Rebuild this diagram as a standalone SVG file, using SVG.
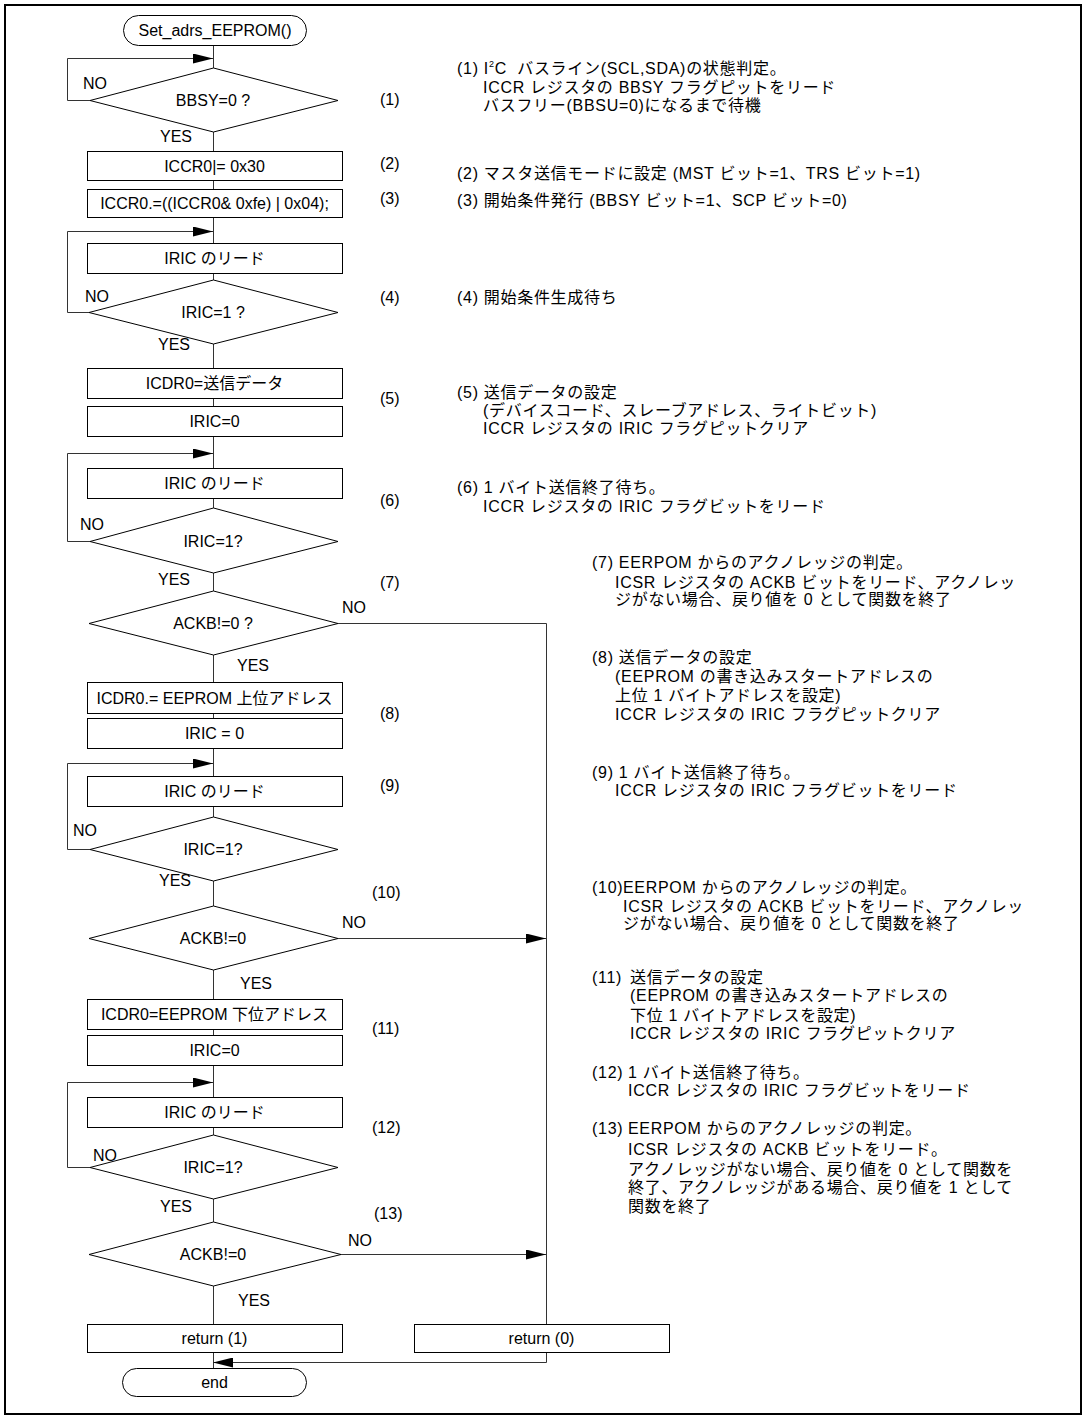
<svg xmlns="http://www.w3.org/2000/svg" width="1088" height="1421" viewBox="0 0 1088 1421">
<style>
.frame{fill:none;stroke:#000;stroke-width:2}
.box{fill:#fff;stroke:#000;stroke-width:1}
.conn{fill:none;stroke:#333;stroke-width:1}
text{font-family:"Liberation Sans","Noto Sans CJK JP",sans-serif;font-size:16px;fill:#000}
.c{text-anchor:middle}
#notes text{letter-spacing:0.7px}
</style>
<defs>
<marker id="ah" markerUnits="userSpaceOnUse" markerWidth="20" markerHeight="10" refX="20" refY="5" orient="auto">
<path d="M0,0 L20,5 L0,10 z" fill="#000"/>
</marker>
</defs>
<rect width="1088" height="1421" fill="#fff"/>
<rect class="frame" x="5" y="5" width="1076" height="1409"/>

<g id="connectors">
<path class="conn" d="M213.5,45 V68 M213.5,132 V151 M213.5,180 V189 M213.5,217 V243 M213.5,273 V280 M213.5,344 V368 M213.5,398 V406 M213.5,436 V468 M213.5,498 V508 M213.5,573 V591 M213.5,655 V682 M213.5,713 V718 M213.5,748 V776 M213.5,806 V817 M213.5,881 V906 M213.5,970 V999 M213.5,1029 V1035 M213.5,1065 V1097 M213.5,1127 V1135 M213.5,1199 V1222 M213.5,1286 V1324 M213.5,1352 V1368"/>
<path class="conn" d="M90,100.5 H67.5 V58.5 H213" marker-end="url(#ah)"/>
<path class="conn" d="M89,312.5 H67.5 V231.5 H213" marker-end="url(#ah)"/>
<path class="conn" d="M90,541.5 H67.5 V453.5 H213" marker-end="url(#ah)"/>
<path class="conn" d="M90,849.5 H67.5 V763.5 H213" marker-end="url(#ah)"/>
<path class="conn" d="M90,1167.5 H67.5 V1082.5 H213" marker-end="url(#ah)"/>
<path class="conn" d="M338,623.5 H546.5 V1324"/>
<path class="conn" d="M338,938.5 H546" marker-end="url(#ah)"/>
<path class="conn" d="M338,1254.5 H546" marker-end="url(#ah)"/>
<path class="conn" d="M546.5,1352 V1362.5 H213" marker-end="url(#ah)"/>
</g>

<g id="start"><rect class="box" x="123.5" y="15.5" width="183" height="30" rx="15"/><text class="c" x="215" y="36">Set_adrs_EEPROM()</text></g>

<g id="d1"><polygon class="box" points="213.5,68 338,100.5 213.5,132 90,100.5"/><text class="c" x="213" y="106">BBSY=0 ?</text><text x="83" y="89">NO</text><text x="160" y="142">YES</text></g>
<g id="b2"><rect class="box" x="87.5" y="151.5" width="255" height="29"/><text class="c" x="214.5" y="172">ICCR0|= 0x30</text></g>
<g id="b3"><rect class="box" x="87.5" y="189.5" width="255" height="28"/><text class="c" x="214.5" y="209">ICCR0.=((ICCR0&amp; 0xfe) | 0x04);</text></g>
<g id="b4"><rect class="box" x="87.5" y="243.5" width="255" height="30"/><text class="c" x="214.5" y="264">IRIC のリード</text></g>
<g id="d2"><polygon class="box" points="213.5,280 338,312.5 213.5,344 89,312.5"/><text class="c" x="213" y="318">IRIC=1 ?</text><text x="85" y="302">NO</text><text x="158" y="350">YES</text></g>
<g id="b5"><rect class="box" x="87.5" y="368.5" width="255" height="30"/><text class="c" x="214.5" y="389">ICDR0=送信データ</text></g>
<g id="b6"><rect class="box" x="87.5" y="406.5" width="255" height="30"/><text class="c" x="214.5" y="427">IRIC=0</text></g>
<g id="b7"><rect class="box" x="87.5" y="468.5" width="255" height="30"/><text class="c" x="214.5" y="489">IRIC のリード</text></g>
<g id="d3"><polygon class="box" points="213.5,508 338,541.5 213.5,573 90,541.5"/><text class="c" x="213" y="547">IRIC=1?</text><text x="80" y="530">NO</text><text x="158" y="585">YES</text></g>
<g id="d4"><polygon class="box" points="213.5,591 338,623.5 213.5,655 89,623.5"/><text class="c" x="213" y="629">ACKB!=0 ?</text><text x="342" y="613">NO</text><text x="237" y="671">YES</text></g>
<g id="b8"><rect class="box" x="87.5" y="682.5" width="255" height="31"/><text class="c" x="214.5" y="704">ICDR0.= EEPROM 上位アドレス</text></g>
<g id="b9"><rect class="box" x="87.5" y="718.5" width="255" height="30"/><text class="c" x="214.5" y="739">IRIC = 0</text></g>
<g id="b10"><rect class="box" x="87.5" y="776.5" width="255" height="30"/><text class="c" x="214.5" y="797">IRIC のリード</text></g>
<g id="d5"><polygon class="box" points="213.5,817 338,849.5 213.5,881 90,849.5"/><text class="c" x="213" y="855">IRIC=1?</text><text x="73" y="836">NO</text><text x="159" y="886">YES</text></g>
<g id="d6"><polygon class="box" points="213.5,906 338,938.5 213.5,970 89,938.5"/><text class="c" x="213" y="944">ACKB!=0</text><text x="342" y="928">NO</text><text x="240" y="989">YES</text></g>
<g id="b11"><rect class="box" x="87.5" y="999.5" width="255" height="30"/><text class="c" x="214.5" y="1020">ICDR0=EEPROM 下位アドレス</text></g>
<g id="b12"><rect class="box" x="87.5" y="1035.5" width="255" height="30"/><text class="c" x="214.5" y="1056">IRIC=0</text></g>
<g id="b13"><rect class="box" x="87.5" y="1097.5" width="255" height="30"/><text class="c" x="214.5" y="1118">IRIC のリード</text></g>
<g id="d7"><polygon class="box" points="213.5,1135 338,1167.5 213.5,1199 90,1167.5"/><text class="c" x="213" y="1173">IRIC=1?</text><text x="93" y="1161">NO</text><text x="160" y="1212">YES</text></g>
<g id="d8"><polygon class="box" points="213.5,1222 341,1254.5 213.5,1286 89,1254.5"/><text class="c" x="213" y="1260">ACKB!=0</text><text x="348" y="1246">NO</text><text x="238" y="1306">YES</text></g>
<g id="ret1"><rect class="box" x="87.5" y="1324.5" width="255" height="28"/><text class="c" x="214.5" y="1344">return (1)</text></g>
<g id="ret0"><rect class="box" x="414.5" y="1324.5" width="255" height="28"/><text class="c" x="541.5" y="1344">return (0)</text></g>
<g id="end"><rect class="box" x="122.5" y="1368.5" width="184" height="28" rx="14"/><text class="c" x="214.5" y="1388">end</text></g>

<g id="step-numbers">
<text x="380" y="105">(1)</text>
<text x="380" y="169">(2)</text>
<text x="380" y="204">(3)</text>
<text x="380" y="303">(4)</text>
<text x="380" y="404">(5)</text>
<text x="380" y="506">(6)</text>
<text x="380" y="588">(7)</text>
<text x="380" y="719">(8)</text>
<text x="380" y="791">(9)</text>
<text x="372" y="898">(10)</text>
<text x="372" y="1034">(11)</text>
<text x="372" y="1133">(12)</text>
<text x="374" y="1219">(13)</text>
</g>

<g id="notes">
<text x="457" y="74" xml:space="preserve">(1) I<tspan font-size="9" dy="-7">2</tspan><tspan dy="7">C  バスライン(SCL,SDA)の状態判定。</tspan></text>
<text x="483" y="93">ICCR レジスタの BBSY フラグピットをリード</text>
<text x="483" y="111">バスフリー(BBSU=0)になるまで待機</text>
<text x="457" y="179">(2) マスタ送信モードに設定 (MST ビット=1、TRS ビット=1)</text>
<text x="457" y="206">(3) 開始条件発行 (BBSY ビット=1、SCP ビット=0)</text>
<text x="457" y="303">(4) 開始条件生成待ち</text>
<text x="457" y="398">(5) 送信データの設定</text>
<text x="483" y="416">(デバイスコード、スレーブアドレス、ライトビット)</text>
<text x="483" y="434">ICCR レジスタの IRIC フラグピットクリア</text>
<text x="457" y="493">(6) 1 バイト送信終了待ち。</text>
<text x="483" y="512">ICCR レジスタの IRIC フラグビットをリード</text>
<text x="592" y="568">(7) EERPOM からのアクノレッジの判定。</text>
<text x="615" y="588">ICSR レジスタの ACKB ビットをリード、アクノレッ</text>
<text x="615" y="605">ジがない場合、戻り値を 0 として関数を終了</text>
<text x="592" y="663">(8) 送信データの設定</text>
<text x="615" y="682">(EEPROM の書き込みスタートアドレスの</text>
<text x="615" y="701">上位 1 バイトアドレスを設定)</text>
<text x="615" y="720">ICCR レジスタの IRIC フラグピットクリア</text>
<text x="592" y="778">(9) 1 バイト送信終了待ち。</text>
<text x="615" y="796">ICCR レジスタの IRIC フラグビットをリード</text>
<text x="592" y="893">(10)</text><text x="623" y="893">EERPOM からのアクノレッジの判定。</text>
<text x="623" y="912">ICSR レジスタの ACKB ビットをリード、アクノレッ</text>
<text x="623" y="929">ジがない場合、戻り値を 0 として関数を終了</text>
<text x="592" y="983">(11)</text><text x="630" y="983">送信データの設定</text>
<text x="630" y="1001">(EEPROM の書き込みスタートアドレスの</text>
<text x="630" y="1021">下位 1 バイトアドレスを設定)</text>
<text x="630" y="1039">ICCR レジスタの IRIC フラグピットクリア</text>
<text x="592" y="1078">(12)</text><text x="628" y="1078">1 バイト送信終了待ち。</text>
<text x="628" y="1096">ICCR レジスタの IRIC フラグビットをリード</text>
<text x="592" y="1134">(13)</text><text x="628" y="1134">EERPOM からのアクノレッジの判定。</text>
<text x="628" y="1155">ICSR レジスタの ACKB ビットをリード。</text>
<text x="628" y="1175">アクノレッジがない場合、戻り値を 0 として関数を</text>
<text x="628" y="1193">終了、アクノレッジがある場合、戻り値を 1 として</text>
<text x="628" y="1212">関数を終了</text>
</g>
</svg>
